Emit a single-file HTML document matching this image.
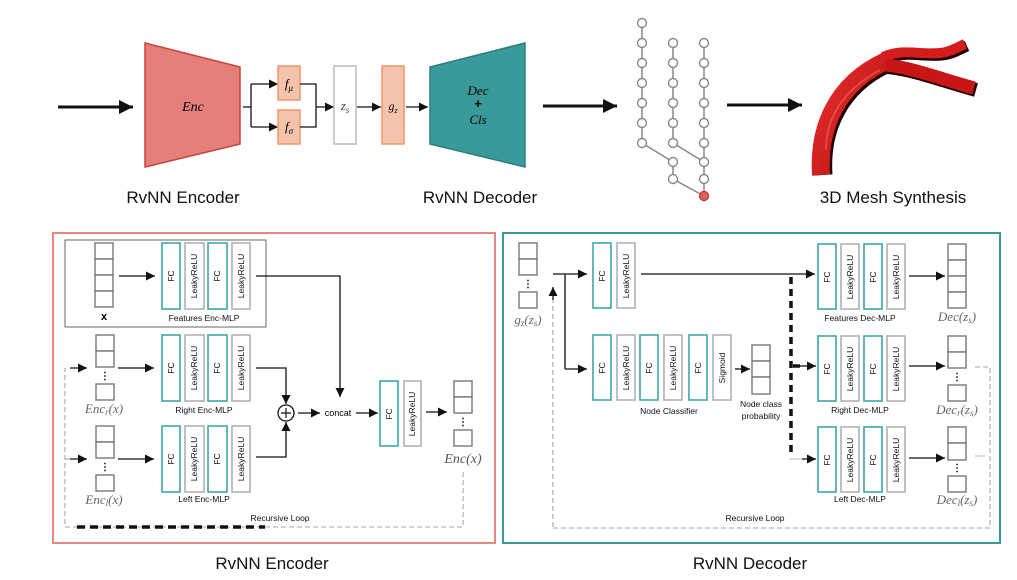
<!DOCTYPE html>
<html><head><meta charset="utf-8"><style>
body{margin:0;background:#fff}
svg{display:block}
text{font-family:"Liberation Sans",sans-serif}
.m{font-family:"Liberation Serif",serif;font-style:italic}
.fc{fill:#fff;stroke:#3aa6ad;stroke-width:1.6}
.lr{fill:#fff;stroke:#b0b0b0;stroke-width:1.6}
.bt{font-size:8.5px;fill:#111}
.cell{fill:#fff;stroke:#777;stroke-width:1.4}
.ln{stroke:#111;stroke-width:1.3;fill:none}
.lab{font-size:8.5px;fill:#111;text-anchor:middle}
.tn{fill:#fff;stroke:#888;stroke-width:1.4}
</style></head><body>
<svg width="1017" height="580" viewBox="0 0 1017 580" xmlns="http://www.w3.org/2000/svg">
<defs>
<marker id="a" viewBox="0 0 10 10" refX="10" refY="5" markerWidth="7" markerHeight="5" markerUnits="userSpaceOnUse" orient="auto"><path d="M0,0L10,5L0,10z" fill="#111"/></marker>
<marker id="b" viewBox="0 0 10 10" refX="10" refY="5" markerWidth="28" markerHeight="14" markerUnits="userSpaceOnUse" orient="auto"><path d="M0,0L10,5L0,10z" fill="#111"/></marker>
<marker id="c" viewBox="0 0 10 10" refX="10" refY="5" markerWidth="16" markerHeight="9" markerUnits="userSpaceOnUse" orient="auto"><path d="M0,0L10,5L0,10z" fill="#111"/></marker>
<linearGradient id="rg" x1="0" y1="0" x2="1" y2="1"><stop offset="0" stop-color="#e83030"/><stop offset="1" stop-color="#b00c0c"/></linearGradient>
</defs>

<!-- TOP -->
<line x1="58" y1="107" x2="133" y2="107" stroke="#111" stroke-width="3" marker-end="url(#b)"/>
<polygon points="145,43 240,67 240,144 145,167" fill="#e57f7a" stroke="#c9453c" stroke-width="1.5"/>
<text x="193" y="111" class="m" font-size="14" text-anchor="middle">Enc</text>
<path class="ln" d="M243,107H251M251,84V127"/>
<line x1="251" y1="84" x2="278" y2="84" class="ln" marker-end="url(#c)"/>
<line x1="251" y1="127" x2="278" y2="127" class="ln" marker-end="url(#c)"/>
<rect x="278" y="66" width="22" height="34" fill="#f3c4ab" stroke="#f0956a" stroke-width="1.5"/>
<rect x="278" y="110" width="22" height="34" fill="#f3c4ab" stroke="#f0956a" stroke-width="1.5"/>
<text x="289" y="88" class="m" font-size="13" text-anchor="middle">f<tspan font-size="9" dy="3">μ</tspan></text>
<text x="289" y="131" class="m" font-size="13" text-anchor="middle">f<tspan font-size="9" dy="3">σ</tspan></text>
<path class="ln" d="M300,84H316V127H300M316,107"/>
<line x1="316" y1="107" x2="334" y2="107" class="ln" marker-end="url(#c)"/>
<rect x="334" y="66" width="22" height="78" fill="#fff" stroke="#bbb" stroke-width="1.5"/>
<text x="345" y="110" class="m" font-size="13" text-anchor="middle" fill="#444">z<tspan font-size="9" dy="3">s</tspan></text>
<line x1="357" y1="107" x2="381" y2="107" class="ln" marker-end="url(#c)"/>
<rect x="382" y="66" width="22" height="78" fill="#f3c4ab" stroke="#f0956a" stroke-width="1.5"/>
<text x="393" y="110" class="m" font-size="12" text-anchor="middle">g<tspan font-size="8" dy="3">z</tspan></text>
<line x1="406" y1="107" x2="428" y2="107" class="ln" marker-end="url(#c)"/>
<polygon points="430,67 525,43 525,167 430,144" fill="#3a9a9a" stroke="#2a7f80" stroke-width="1.5"/>
<text x="478" y="95" class="m" font-size="13" text-anchor="middle">Dec</text>
<text x="478" y="108" font-size="13" font-weight="bold" text-anchor="middle">+</text>
<text x="478" y="124" class="m" font-size="13" text-anchor="middle">Cls</text>
<text x="183" y="203" font-size="17" text-anchor="middle" fill="#111">RvNN Encoder</text>
<text x="480" y="203" font-size="17" text-anchor="middle" fill="#111">RvNN Decoder</text>
<line x1="543" y1="106" x2="617" y2="106" stroke="#111" stroke-width="3" marker-end="url(#b)"/>
<!-- tree -->
<g stroke="#888" stroke-width="1.5" fill="none">
<path d="M642,23V143L673,162V179L704,196M673,43V143L704,162M704,43V196"/>
</g>
<g class="tn">
<circle cx="642" cy="23" r="4.5"/><circle cx="642" cy="43" r="4.5"/><circle cx="642" cy="63" r="4.5"/><circle cx="642" cy="83" r="4.5"/><circle cx="642" cy="103" r="4.5"/><circle cx="642" cy="123" r="4.5"/><circle cx="642" cy="143" r="4.5"/>
<circle cx="673" cy="43" r="4.5"/><circle cx="673" cy="63" r="4.5"/><circle cx="673" cy="83" r="4.5"/><circle cx="673" cy="103" r="4.5"/><circle cx="673" cy="123" r="4.5"/><circle cx="673" cy="143" r="4.5"/><circle cx="673" cy="162" r="4.5"/><circle cx="673" cy="179" r="4.5"/>
<circle cx="704" cy="43" r="4.5"/><circle cx="704" cy="63" r="4.5"/><circle cx="704" cy="83" r="4.5"/><circle cx="704" cy="103" r="4.5"/><circle cx="704" cy="123" r="4.5"/><circle cx="704" cy="143" r="4.5"/><circle cx="704" cy="162" r="4.5"/><circle cx="704" cy="179" r="4.5"/>
</g>
<circle cx="704" cy="196" r="4.5" fill="#e06060" stroke="#c04040" stroke-width="1.4"/>
<line x1="727" y1="105" x2="802" y2="105" stroke="#111" stroke-width="3" marker-end="url(#b)"/>
<!-- vessel -->
<g fill="none" stroke-linecap="butt">
<path d="M823,175C820,130 838,86 888,63" stroke="#200" stroke-width="19"/>
<path d="M885,59C905,50 920,57 942,55C952,54 958,50 967,46" stroke="#200" stroke-width="11"/>
<path d="M888,67C915,70 940,80 976,90" stroke="#200" stroke-width="14"/>
<path d="M821,175C818,128 836,84 886,61" stroke="url(#rg)" stroke-width="18"/>
<path d="M883,57C903,48 918,55 940,53C950,52 956,48 965,44" stroke="#d41c1c" stroke-width="10"/>
<path d="M886,65C913,68 938,78 974,88" stroke="#c81515" stroke-width="13"/>
<path d="M826,150C826,120 840,92 880,70" stroke="#f06060" stroke-width="2" opacity="0.6"/>
</g>
<text x="893" y="203" font-size="17" text-anchor="middle" fill="#111">3D Mesh Synthesis</text>

<!-- BOTTOM LEFT -->
<rect x="53" y="233" width="442" height="310" fill="none" stroke="#e8867f" stroke-width="2"/>
<rect x="65" y="240" width="201" height="87" fill="none" stroke="#666" stroke-width="1"/>
<g class="cell"><rect x="95" y="243" width="18" height="16"/><rect x="95" y="259" width="18" height="16"/><rect x="95" y="275" width="18" height="16"/><rect x="95" y="291" width="18" height="16"/></g>
<text x="104" y="320" font-family="Liberation Serif" font-weight="bold" font-size="11" text-anchor="middle">x</text>
<line x1="119" y1="276" x2="155" y2="276" class="ln" marker-end="url(#c)"/>
<rect x="162" y="243" width="18" height="66" class="fc"/><rect x="185" y="243" width="19" height="66" class="lr"/><rect x="208" y="243" width="19" height="66" class="fc"/><rect x="232" y="243" width="18" height="66" class="lr"/>
<g class="bt" text-anchor="middle">
<text transform="translate(174,276) rotate(-90)">FC</text><text transform="translate(197,276) rotate(-90)">LeakyReLU</text><text transform="translate(220,276) rotate(-90)">FC</text><text transform="translate(244,276) rotate(-90)">LeakyReLU</text></g>
<text x="204" y="321" class="lab">Features Enc-MLP</text>
<!-- right row -->
<g class="cell"><rect x="96" y="335" width="18" height="16"/><rect x="96" y="351" width="18" height="16"/><rect x="96" y="384" width="18" height="16"/></g>
<text x="105" y="379" font-size="10" text-anchor="middle" font-weight="bold">⋮</text>
<text x="104" y="413" class="m" font-size="13" text-anchor="middle" fill="#666">Enc<tspan font-size="9" dy="2">r</tspan><tspan dy="-2">(x)</tspan></text>
<line x1="118" y1="368" x2="154" y2="368" class="ln" marker-end="url(#c)"/>
<rect x="162" y="335" width="18" height="66" class="fc"/><rect x="185" y="335" width="19" height="66" class="lr"/><rect x="208" y="335" width="19" height="66" class="fc"/><rect x="232" y="335" width="18" height="66" class="lr"/>
<g class="bt" text-anchor="middle">
<text transform="translate(174,368) rotate(-90)">FC</text><text transform="translate(197,368) rotate(-90)">LeakyReLU</text><text transform="translate(220,368) rotate(-90)">FC</text><text transform="translate(244,368) rotate(-90)">LeakyReLU</text></g>
<text x="204" y="413" class="lab">Right Enc-MLP</text>
<!-- left row -->
<g class="cell"><rect x="96" y="426" width="18" height="16"/><rect x="96" y="442" width="18" height="16"/><rect x="96" y="475" width="18" height="16"/></g>
<text x="105" y="470" font-size="10" text-anchor="middle" font-weight="bold">⋮</text>
<text x="104" y="504" class="m" font-size="13" text-anchor="middle" fill="#666">Enc<tspan font-size="9" dy="2">l</tspan><tspan dy="-2">(x)</tspan></text>
<line x1="118" y1="459" x2="154" y2="459" class="ln" marker-end="url(#c)"/>
<rect x="162" y="426" width="18" height="66" class="fc"/><rect x="185" y="426" width="19" height="66" class="lr"/><rect x="208" y="426" width="19" height="66" class="fc"/><rect x="232" y="426" width="18" height="66" class="lr"/>
<g class="bt" text-anchor="middle">
<text transform="translate(174,459) rotate(-90)">FC</text><text transform="translate(197,459) rotate(-90)">LeakyReLU</text><text transform="translate(220,459) rotate(-90)">FC</text><text transform="translate(244,459) rotate(-90)">LeakyReLU</text></g>
<text x="204" y="502" class="lab">Left Enc-MLP</text>
<!-- merge -->
<path class="ln" d="M256,368H286V404" marker-end="url(#c)"/>
<path class="ln" d="M256,457H286V422" marker-end="url(#c)"/>
<path class="ln" d="M256,276H340V397" marker-end="url(#c)"/>
<circle cx="286" cy="413" r="8" fill="#fff" stroke="#111" stroke-width="1.3"/>
<path d="M281,413H291M286,408V418" stroke="#111" stroke-width="1.2"/>
<line x1="298" y1="413" x2="320" y2="413" class="ln" marker-end="url(#c)"/>
<text x="338" y="416" font-size="9" text-anchor="middle">concat</text>
<line x1="356" y1="413" x2="378" y2="413" class="ln" marker-end="url(#c)"/>
<rect x="380" y="381" width="18" height="65" class="fc"/><rect x="404" y="381" width="17" height="65" class="lr"/>
<g class="bt" text-anchor="middle"><text transform="translate(392,414) rotate(-90)">FC</text><text transform="translate(415,414) rotate(-90)">LeakyReLU</text></g>
<line x1="426" y1="412" x2="447" y2="412" class="ln" marker-end="url(#c)"/>
<g class="cell"><rect x="454" y="381" width="18" height="16"/><rect x="454" y="397" width="18" height="16"/><rect x="454" y="430" width="18" height="16"/></g>
<text x="463" y="425" font-size="10" text-anchor="middle" font-weight="bold">⋮</text>
<text x="463" y="463" class="m" font-size="14" text-anchor="middle" fill="#555">Enc(x)</text>
<path d="M463,472V527H65V368" fill="none" stroke="#888" stroke-width="0.8" stroke-dasharray="5,3"/>
<path d="M65,459H74" stroke="#888" stroke-width="0.8"/>
<line x1="70" y1="368" x2="87" y2="368" class="ln" marker-end="url(#c)"/>
<line x1="70" y1="459" x2="87" y2="459" class="ln" marker-end="url(#c)"/>
<path d="M77,527H265" stroke="#111" stroke-width="3.5" stroke-dasharray="8,5"/>
<text x="280" y="521" class="lab">Recursive Loop</text>

<!-- BOTTOM RIGHT -->
<rect x="503" y="233" width="497" height="310" fill="none" stroke="#3a9a9a" stroke-width="2"/>
<g class="cell"><rect x="519" y="243" width="18" height="16"/><rect x="519" y="259" width="18" height="16"/><rect x="519" y="292" width="18" height="16"/></g>
<text x="528" y="287" font-size="10" text-anchor="middle" font-weight="bold">⋮</text>
<text x="528" y="324" class="m" font-size="13" text-anchor="middle" fill="#666">g<tspan font-size="9" dy="2">z</tspan><tspan dy="-2">(z</tspan><tspan font-size="9" dy="2">s</tspan><tspan dy="-2">)</tspan></text>
<path d="M553,527V300" fill="none" stroke="#888" stroke-width="0.8" stroke-dasharray="5,3"/>
<line x1="553" y1="300" x2="553" y2="287" class="ln" marker-end="url(#c)"/>
<line x1="553" y1="274" x2="587" y2="274" class="ln" marker-end="url(#c)"/>
<path class="ln" d="M565,274V369"/>
<line x1="565" y1="369" x2="587" y2="369" class="ln" marker-end="url(#c)"/>
<rect x="593" y="243" width="18" height="65" class="fc"/><rect x="617" y="243" width="18" height="65" class="lr"/>
<g class="bt" text-anchor="middle"><text transform="translate(605,276) rotate(-90)">FC</text><text transform="translate(629,276) rotate(-90)">LeakyReLU</text></g>
<line x1="641" y1="274" x2="815" y2="274" class="ln" marker-end="url(#c)"/>
<rect x="593" y="335" width="18" height="65" class="fc"/><rect x="617" y="335" width="18" height="65" class="lr"/><rect x="640" y="335" width="18" height="65" class="fc"/><rect x="664" y="335" width="18" height="65" class="lr"/><rect x="689" y="335" width="18" height="65" class="fc"/><rect x="713" y="335" width="18" height="65" class="lr"/>
<g class="bt" text-anchor="middle"><text transform="translate(605,368) rotate(-90)">FC</text><text transform="translate(629,368) rotate(-90)">LeakyReLU</text><text transform="translate(652,368) rotate(-90)">FC</text><text transform="translate(676,368) rotate(-90)">LeakyReLU</text><text transform="translate(701,368) rotate(-90)">FC</text><text transform="translate(725,368) rotate(-90)">Sigmoid</text></g>
<text x="669" y="414" class="lab">Node Classifier</text>
<line x1="735" y1="369" x2="750" y2="369" class="ln" marker-end="url(#c)"/>
<g class="cell"><rect x="752" y="345" width="18" height="16"/><rect x="752" y="361" width="18" height="16"/><rect x="752" y="377" width="18" height="17"/></g>
<text x="761" y="407" class="lab">Node class</text>
<text x="761" y="419" class="lab">probability</text>
<path d="M791,277V453" stroke="#111" stroke-width="3.5" stroke-dasharray="7,5"/>
<path d="M793,366H800" stroke="#111" stroke-width="3.5"/>
<line x1="800" y1="366" x2="816" y2="366" class="ln" marker-end="url(#c)"/>
<path d="M789,459H816" stroke="#aaa" stroke-width="0.8"/>
<line x1="802" y1="459" x2="816" y2="459" class="ln" marker-end="url(#c)"/>
<!-- dec mlps -->
<rect x="818" y="244" width="18" height="65" class="fc"/><rect x="841" y="244" width="18" height="65" class="lr"/><rect x="864" y="244" width="18" height="65" class="fc"/><rect x="887" y="244" width="18" height="65" class="lr"/>
<g class="bt" text-anchor="middle"><text transform="translate(830,277) rotate(-90)">FC</text><text transform="translate(853,277) rotate(-90)">LeakyReLU</text><text transform="translate(876,277) rotate(-90)">FC</text><text transform="translate(899,277) rotate(-90)">LeakyReLU</text></g>
<text x="860" y="321" class="lab">Features Dec-MLP</text>
<rect x="818" y="336" width="18" height="65" class="fc"/><rect x="841" y="336" width="18" height="65" class="lr"/><rect x="864" y="336" width="18" height="65" class="fc"/><rect x="887" y="336" width="18" height="65" class="lr"/>
<g class="bt" text-anchor="middle"><text transform="translate(830,369) rotate(-90)">FC</text><text transform="translate(853,369) rotate(-90)">LeakyReLU</text><text transform="translate(876,369) rotate(-90)">FC</text><text transform="translate(899,369) rotate(-90)">LeakyReLU</text></g>
<text x="860" y="413" class="lab">Right Dec-MLP</text>
<rect x="818" y="427" width="18" height="65" class="fc"/><rect x="841" y="427" width="18" height="65" class="lr"/><rect x="864" y="427" width="18" height="65" class="fc"/><rect x="887" y="427" width="18" height="65" class="lr"/>
<g class="bt" text-anchor="middle"><text transform="translate(830,460) rotate(-90)">FC</text><text transform="translate(853,460) rotate(-90)">LeakyReLU</text><text transform="translate(876,460) rotate(-90)">FC</text><text transform="translate(899,460) rotate(-90)">LeakyReLU</text></g>
<text x="860" y="502" class="lab">Left Dec-MLP</text>
<line x1="909" y1="276" x2="945" y2="276" class="ln" marker-end="url(#c)"/>
<line x1="909" y1="366" x2="945" y2="366" class="ln" marker-end="url(#c)"/>
<line x1="909" y1="458" x2="945" y2="458" class="ln" marker-end="url(#c)"/>
<g class="cell"><rect x="948" y="244" width="18" height="16"/><rect x="948" y="260" width="18" height="16"/><rect x="948" y="276" width="18" height="16"/><rect x="948" y="292" width="18" height="16"/></g>
<text x="957" y="321" class="m" font-size="13" text-anchor="middle" fill="#666">Dec(z<tspan font-size="9" dy="2">s</tspan><tspan dy="-2">)</tspan></text>
<g class="cell"><rect x="948" y="336" width="18" height="16"/><rect x="948" y="352" width="18" height="16"/><rect x="948" y="385" width="18" height="16"/></g>
<text x="957" y="380" font-size="10" text-anchor="middle" font-weight="bold">⋮</text>
<text x="957" y="414" class="m" font-size="13" text-anchor="middle" fill="#666">Dec<tspan font-size="9" dy="2">r</tspan><tspan dy="-2">(z</tspan><tspan font-size="9" dy="2">s</tspan><tspan dy="-2">)</tspan></text>
<g class="cell"><rect x="948" y="427" width="18" height="16"/><rect x="948" y="443" width="18" height="17"/><rect x="948" y="476" width="18" height="16"/></g>
<text x="957" y="471" font-size="10" text-anchor="middle" font-weight="bold">⋮</text>
<text x="957" y="504" class="m" font-size="13" text-anchor="middle" fill="#666">Dec<tspan font-size="9" dy="2">l</tspan><tspan dy="-2">(z</tspan><tspan font-size="9" dy="2">s</tspan><tspan dy="-2">)</tspan></text>
<path d="M975,367H990V528H553" fill="none" stroke="#888" stroke-width="0.8" stroke-dasharray="5,3"/>
<path d="M975,456H985" stroke="#aaa" stroke-width="0.8"/>
<text x="755" y="521" class="lab">Recursive Loop</text>

<text x="272" y="569" font-size="17" text-anchor="middle" fill="#111">RvNN Encoder</text>
<text x="750" y="569" font-size="17" text-anchor="middle" fill="#111">RvNN Decoder</text>
</svg>
</body></html>
